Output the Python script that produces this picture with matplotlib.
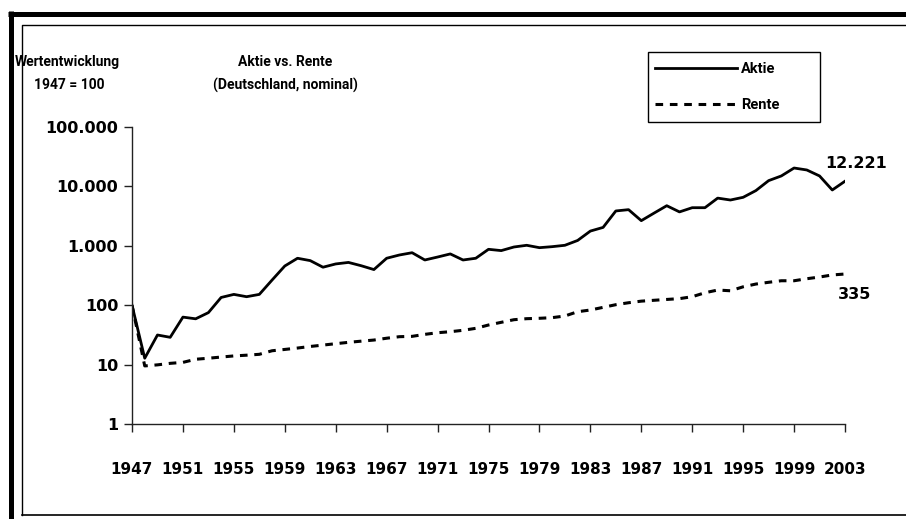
import matplotlib.pyplot as plt
from matplotlib.lines import Line2D
from matplotlib.patches import Rectangle
from matplotlib.ticker import FixedLocator, FuncFormatter

years = list(range(1947, 2004))
aktie = [100, 12.8, 31.5, 28.8, 63, 59, 75, 135, 152, 139,
         152, 265, 457, 617, 563, 436, 495, 525, 462, 398,
         617, 700, 765, 577, 647, 730, 577, 617, 873, 830,
         955, 1020, 930, 967, 1020, 1230, 1770, 2040, 3860, 4060,
         2650, 3550, 4730, 3720, 4380, 4380, 6350, 5900, 6550, 8500,
         12500, 15000, 20400, 18900, 15000, 8700, 12221]
rente = [100, 9.5, 9.9, 10.5, 10.9, 12.3, 12.8, 13.4, 14.0, 14.4,
         14.9, 17.1, 18.0, 19.0, 20.2, 21.3, 22.5, 23.7, 24.8, 25.9,
         27.8, 29.5, 29.9, 32.3, 34.4, 35.8, 37.8, 40.8, 46.4, 51.5,
         57, 59.3, 60.2, 61.7, 65.8, 77.7, 83, 92, 102, 110,
         117, 121, 125, 129, 139, 162, 180, 175, 204, 227,
         243, 258, 258, 279, 298, 323, 335]
tick_years = list(range(1947, 2004, 4))
y_ticks = [1, 10, 100, 1000, 10000, 100000]

W, H = 906, 519
narrow = ['Roboto', 'DejaVu Sans']

fig = plt.figure(figsize=(W / 100, H / 100), dpi=100)
ax = fig.add_axes([132 / W, 1 - 424 / H, (845 - 132) / W, (424 - 127) / H])

ax.plot(years, aktie, color='black', lw=2, label='Aktie')
ax.plot(years, rente, color='black', lw=2.2, linestyle=(0, (2.5, 2.2)), label='Rente')

ax.set_yscale('log')
ax.set_ylim(1, 100000)
ax.set_xlim(1947, 2003)
ax.yaxis.set_major_locator(FixedLocator(y_ticks))
ax.yaxis.set_minor_locator(FixedLocator([]))
ax.yaxis.set_major_formatter(FuncFormatter(lambda v, p: f'{int(v):,}'.replace(',', '.')))
ax.set_xticks(tick_years)
ax.set_xticklabels([str(y) for y in tick_years])

for s in ['top', 'right']:
    ax.spines[s].set_visible(False)
for s in ['left', 'bottom']:
    ax.spines[s].set_linewidth(1)
    ax.spines[s].set_color('#222222')
ax.tick_params(axis='both', length=6, width=1, color='#222222')
ax.tick_params(axis='x', pad=21)
ax.tick_params(axis='y', pad=4)
for lab in ax.get_xticklabels():
    lab.set_fontweight('bold')
    lab.set_fontsize(11)
for lab in ax.get_yticklabels():
    lab.set_fontweight('bold')
    lab.set_fontsize(11.5)

ax.annotate('12.221', xy=(2003, 12221), xytext=(-14, 13), textcoords='offset points',
            fontsize=11.5, fontweight='bold', va='center', ha='left')
ax.annotate('335', xy=(2003, 335), xytext=(-5, -15), textcoords='offset points',
            fontsize=11.5, fontweight='bold', va='center', ha='left')

fig.text(67 / W, 1 - 62 / H, 'Wertentwicklung', ha='center', va='center',
         fontsize=10, fontweight='bold', family=narrow)
fig.text(69 / W, 1 - 85 / H, '1947 = 100', ha='center', va='center',
         fontsize=10, fontweight='bold', family=narrow)
fig.text(285 / W, 1 - 62 / H, 'Aktie vs. Rente', ha='center', va='center',
         fontsize=10, fontweight='bold', family=narrow)
fig.text(285 / W, 1 - 85 / H, '(Deutschland, nominal)', ha='center', va='center',
         fontsize=10, fontweight='bold', family=narrow)

# legend without its own frame, box drawn separately
leg = ax.legend(loc='upper left', bbox_to_anchor=(651 / W, 1 - 58 / H),
                bbox_transform=fig.transFigure, frameon=False, borderaxespad=0,
                handlelength=5.6, handletextpad=0.25, labelspacing=1.5, borderpad=0.3,
                prop={'family': narrow, 'weight': 'bold', 'size': 10.5})
fig.add_artist(Rectangle((648 / W, 1 - 122 / H), (820 - 648) / W, (122 - 52) / H,
                         transform=fig.transFigure, fill=False, edgecolor='black', lw=1))

# outer frame: thick black band left and top, thin inner frame
fig.add_artist(Line2D([10.5 / W, 10.5 / W], [0, 1 - 11 / H], transform=fig.transFigure,
                      color='black', lw=3.6, solid_capstyle='butt'))
fig.add_artist(Line2D([8 / W, 1], [1 - 13.5 / H, 1 - 13.5 / H], transform=fig.transFigure,
                      color='black', lw=3.6, solid_capstyle='butt'))
fig.add_artist(Line2D([22 / W, 22 / W, 1], [1 - 515 / H, 1 - 25 / H, 1 - 25 / H],
                      transform=fig.transFigure, color='black', lw=1))
fig.add_artist(Line2D([22 / W, 1], [1 - 515 / H, 1 - 515 / H], transform=fig.transFigure,
                      color='black', lw=1.2))

fig.savefig('out.png', dpi=100)
